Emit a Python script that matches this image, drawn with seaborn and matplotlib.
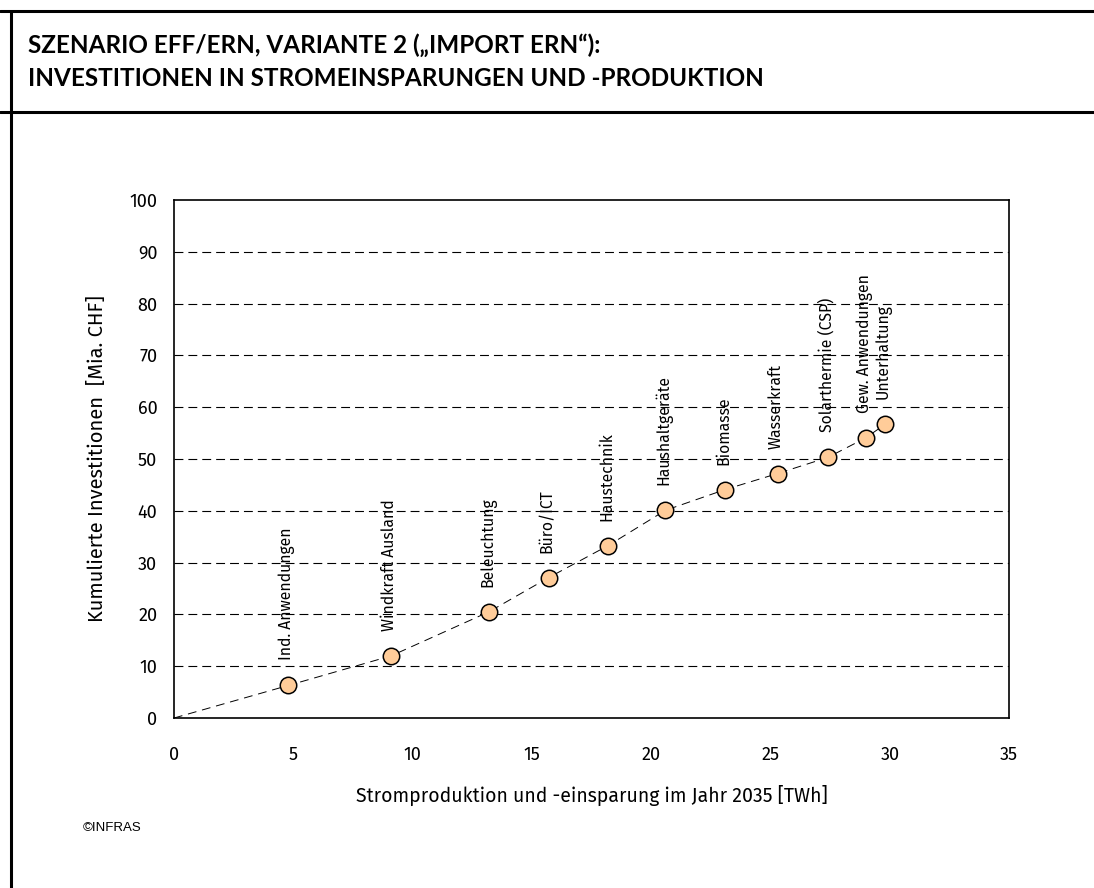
import matplotlib
matplotlib.use("Agg")
import matplotlib.pyplot as plt
from matplotlib.lines import Line2D
import seaborn as sns
import pandas as pd

# Daten
massnahmen = ['Ind. Anwendungen', 'Windkraft Ausland', 'Beleuchtung', 'Büro/ICT',
              'Haustechnik', 'Haushaltgeräte', 'Biomasse', 'Wasserkraft',
              'Solarthermie (CSP)', 'Gew. Anwendungen', 'Unterhaltung']
strom_twh = [4.8, 9.1, 13.2, 15.7, 18.2, 20.6, 23.1, 25.3, 27.4, 29.0, 29.8]
invest_mia = [6.3, 12.0, 20.5, 27.1, 33.3, 40.1, 44.1, 47.2, 50.3, 54.1, 56.7]
y_ticks = [0, 10, 20, 30, 40, 50, 60, 70, 80, 90, 100]
x_ticks = [0, 5, 10, 15, 20, 25, 30, 35]

titel_1 = 'SZENARIO EFF/ERN, VARIANTE 2 („IMPORT ERN“):'
titel_2 = 'INVESTITIONEN IN STROMEINSPARUNGEN UND -PRODUKTION'

df = pd.DataFrame({'x': strom_twh, 'y': invest_mia, 'label': massnahmen})
# Kurve beginnt im Ursprung
df_linie = pd.DataFrame({'x': [0] + strom_twh, 'y': [0] + invest_mia})

# Schriften (mit Ersatz, falls nicht vorhanden)
schrift_normal = ['Fira Sans', 'Lato', 'DejaVu Sans']
schrift_titel = ['Lato', 'DejaVu Sans']

sns.set_style('white')
plt.rcParams['font.family'] = schrift_normal
for k in ['text.color', 'axes.labelcolor', 'xtick.color', 'ytick.color']:
    plt.rcParams[k] = 'black'

fig = plt.figure(figsize=(10.94, 8.88), dpi=100)
ax = fig.add_axes([0.159, 0.1914, 0.7634, 0.5834])

# horizontale Hilfslinien
for yv in y_ticks[1:-1]:
    ax.axhline(yv, color='black', lw=0.8, dashes=(8, 4.5), zorder=1)

sns.lineplot(data=df_linie, x='x', y='y', ax=ax, color='black', lw=0.7, zorder=2)
ax.lines[-1].set_dashes((9, 6))
sns.scatterplot(data=df, x='x', y='y', ax=ax, s=140, color='#FFCC99',
                edgecolor='black', linewidth=1.1, zorder=3)

for _, r in df.iterrows():
    ax.annotate(r['label'], (r['x'], r['y']), xytext=(-1, 18), textcoords='offset points',
                rotation=90, ha='center', va='bottom', fontsize=11.3)

ax.set_xlim(0, 35)
ax.set_ylim(0, 100)
ax.set_xticks(x_ticks)
ax.set_yticks(y_ticks)
ax.tick_params(axis='both', direction='out', length=6, width=0.8, labelsize=13,
               color='black', pad=6)
ax.tick_params(axis='x', pad=14)
ax.set_xlabel('Stromproduktion und -einsparung im Jahr 2035 [TWh]', fontsize=14, labelpad=15)
ax.set_ylabel('Kumulierte Investitionen  [Mia. CHF]', fontsize=14.5, labelpad=16)
for sp in ax.spines.values():
    sp.set_visible(True)
    sp.set_color('black')
    sp.set_linewidth(1.2)

# Rahmen und Titel
fig.add_artist(Line2D([0.0, 1.0], [0.9876, 0.9876], color='black', lw=2.2))
fig.add_artist(Line2D([0.0, 1.0], [0.8739, 0.8739], color='black', lw=2.2))
fig.add_artist(Line2D([0.0105, 0.0105], [0.0, 0.9876], color='black', lw=2.2))
fig.text(0.026, 0.949, titel_1, fontsize=17.5, fontweight='bold', family=schrift_titel,
         va='center', ha='left')
fig.text(0.026, 0.912, titel_2, fontsize=17.5, fontweight='bold', family=schrift_titel,
         va='center', ha='left')
fig.text(0.076, 0.068, '©INFRAS', fontsize=9.5, family=['Liberation Sans', 'DejaVu Sans'],
         va='center', ha='left')

fig.savefig('out.png', dpi=100)
